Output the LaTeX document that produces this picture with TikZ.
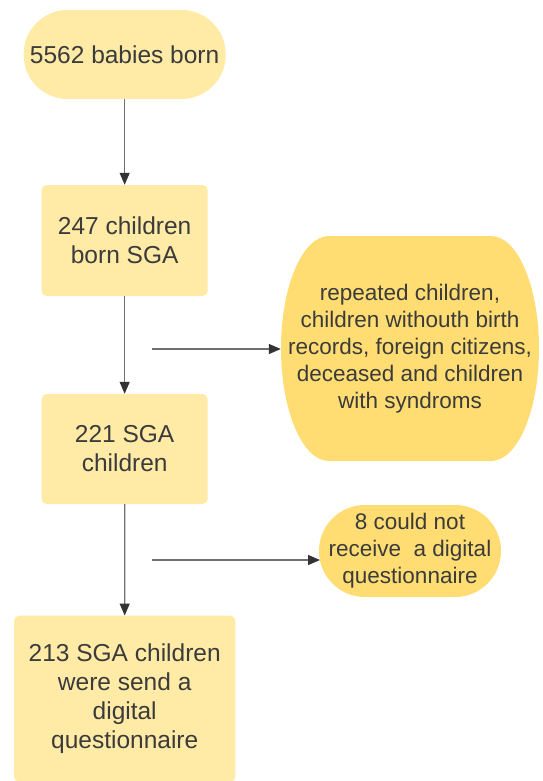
\documentclass[tikz,border=0pt]{standalone}
\usepackage{fontspec}
\setmainfont{Liberation Sans}
\usetikzlibrary{arrows.meta,backgrounds}
\definecolor{lightbox}{HTML}{FFEAA6}
\definecolor{darkbox}{HTML}{FFDD72}
\definecolor{txt}{HTML}{3B3B3B}
\definecolor{lineg}{HTML}{707070}
\definecolor{tipg}{HTML}{333333}
\begin{document}
\begin{tikzpicture}[x=1pt,y=1pt,
  bigtext/.style={font=\fontsize{24.5pt}{29pt}\selectfont, text=txt, align=center, inner sep=0pt},
  smalltext/.style={font=\fontsize{22.5pt}{27pt}\selectfont, text=txt, align=center, inner sep=0pt},
  mainbox/.style={bigtext, fill=lightbox, rounded corners=5pt},
  flow/.style={draw=lineg, line width=1.3pt, -{Triangle[length=12pt,width=10pt,color=tipg]}}]
\useasboundingbox (0,0) rectangle (542,-781);
% top terminator
\node[mainbox, rounded corners=44pt, minimum width=202pt, minimum height=89pt] (born) at (124.65,-54.5) {5562 babies born};
% boxes
\node[mainbox, minimum width=166pt, minimum height=111pt] (sga1) at (124.65,-240.5) {247 children\\born SGA};
\node[mainbox, minimum width=166pt, minimum height=110pt] (sga2) at (124.65,-449) {221 SGA\\children};
\node[mainbox, minimum width=221.4pt, minimum height=166pt] (sga3) at (124.7,-698.7) {213 SGA children\\were send a\\digital\\questionnaire};
% excluded node (elliptic-ended)
\node[smalltext, minimum width=258pt, minimum height=225pt] (excl) at (410,-348.5) {repeated children,\\children withouth birth\\records, foreign citizens,\\deceased and children\\with syndroms};
\begin{scope}[on background layer]
\fill[darkbox] (329,-236) -- (491,-236) arc[start angle=90,end angle=-90,x radius=48pt,y radius=112.5pt] -- (329,-461) arc[start angle=270,end angle=90,x radius=48pt,y radius=112.5pt] -- cycle;
\end{scope}
% could-not node
\node[smalltext, fill=darkbox, rounded corners=45.9pt, minimum width=182pt, minimum height=92pt] (nodig) at (410,-551) {8 could not\\receive\ \ a digital\\questionnaire};
% connectors
\coordinate (s1) at (152,-349);
\coordinate (s2) at (152,-560);
\draw[flow] (born.south) -- (sga1.north);
\draw[flow] (sga1.south) -- (sga2.north);
\draw[flow] (sga2.south) -- (sga3.north);
\draw[flow] (s1) -- (s1 -| excl.west);
\draw[flow] (s2) -- (320,-560) coordinate (e2);
\end{tikzpicture}
\end{document}
